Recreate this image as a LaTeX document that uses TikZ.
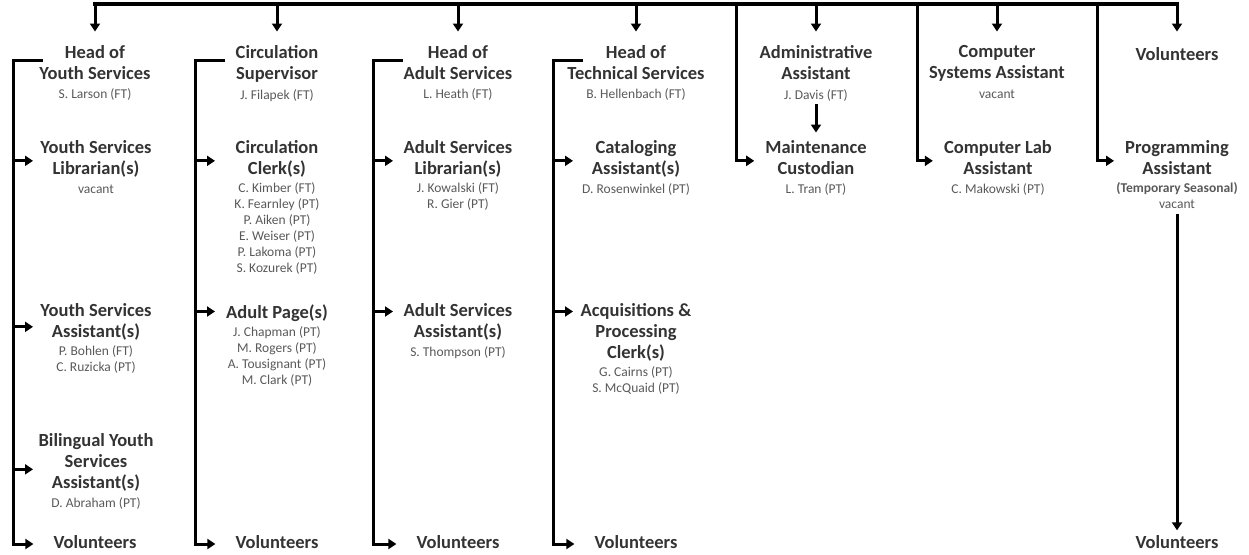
\documentclass[tikz,border=0pt]{standalone}
\usepackage{fontspec}
\setmainfont{Carlito}
\usetikzlibrary{positioning,arrows.meta}

\begin{document}
\begin{tikzpicture}[x=1pt,y=-1pt,
    role/.style={align=center,inner sep=0pt,anchor=north,text=black!80,
      font=\bfseries\fontsize{18.5}{21}\selectfont,
      execute at begin node=\strut,execute at end node=\strut},
    staff/.style={align=center,inner sep=0pt,text=black!65,
      font=\fontsize{13.5}{16}\selectfont,
      execute at begin node=\strut,execute at end node=\strut},
    link/.style={line width=3pt},
    arr/.style={line width=3pt,-{Triangle[length=8pt,width=10pt]}}]
  \useasboundingbox (0,0) rectangle (1249,554);

  % first row
  \node[role] (yhead) at (95,45.5) {Head of\\Youth Services};
  \node[staff,below=1.4pt of yhead] (yhead-n) {S. Larson (FT)};
  \node[role] (circ) at (277,45.5) {Circulation\\Supervisor};
  \node[staff,below=1.4pt of circ] (circ-n) {J. Filapek (FT)};
  \node[role] (ahead) at (458,45.5) {Head of\\Adult Services};
  \node[staff,below=1.4pt of ahead] (ahead-n) {L. Heath (FT)};
  \node[role] (thead) at (636,45.5) {Head of\\Technical Services};
  \node[staff,below=1.4pt of thead] (thead-n) {B. Hellenbach (FT)};
  \node[role] (admin) at (816,45.5) {Administrative\\Assistant};
  \node[staff,below=1.4pt of admin] (admin-n) {J. Davis (FT)};
  \node[role] (csys) at (997,45.5) {Computer\\Systems Assistant};
  \node[staff,below=1.4pt of csys] (csys-n) {vacant};
  \node[role] (vtop) at (1177,45.5) {Volunteers};

  % second row
  \node[role] (ylib) at (96,140.5) {Youth Services\\Librarian(s)};
  \node[staff,below=1.4pt of ylib] (ylib-n) {vacant};
  \node[role] (clerk) at (277,140.5) {Circulation\\Clerk(s)};
  \node[staff,below=1.4pt of clerk] (clerk-n) {C. Kimber (FT)\\K. Fearnley (PT)\\P. Aiken (PT)\\E. Weiser (PT)\\P. Lakoma (PT)\\S. Kozurek (PT)};
  \node[role] (alib) at (458,140.5) {Adult Services\\Librarian(s)};
  \node[staff,below=1.4pt of alib] (alib-n) {J. Kowalski (FT)\\R. Gier (PT)};
  \node[role] (catl) at (636,140.5) {Cataloging\\Assistant(s)};
  \node[staff,below=1.4pt of catl] (catl-n) {D. Rosenwinkel (PT)};
  \node[role] (maint) at (816,140.5) {Maintenance\\Custodian};
  \node[staff,below=1.4pt of maint] (maint-n) {L. Tran (PT)};
  \node[role] (clab) at (998,140.5) {Computer Lab\\Assistant};
  \node[staff,below=1.4pt of clab] (clab-n) {C. Makowski (PT)};
  \node[role] (prog) at (1177,140.5) {Programming\\Assistant};
  \node[staff,below=1.4pt of prog] (prog-n) {\textbf{(Temporary Seasonal)}\\vacant};

  % third and fourth rows
  \node[role] (yasst) at (96,303.5) {Youth Services\\Assistant(s)};
  \node[staff,below=1.4pt of yasst] (yasst-n) {P. Bohlen (FT)\\C. Ruzicka (PT)};
  \node[role] (page) at (277,303.5) {Adult Page(s)};
  \node[staff,below=1.4pt of page] (page-n) {J. Chapman (PT)\\M. Rogers (PT)\\A. Tousignant (PT)\\M. Clark (PT)};
  \node[role] (aasst) at (458,303.5) {Adult Services\\Assistant(s)};
  \node[staff,below=1.4pt of aasst] (aasst-n) {S. Thompson (PT)};
  \node[role] (acq) at (636,303.5) {Acquisitions \&\\Processing\\Clerk(s)};
  \node[staff,below=1.4pt of acq] (acq-n) {G. Cairns (PT)\\S. McQuaid (PT)};
  \node[role] (bila) at (96,433.5) {Bilingual Youth\\Services\\Assistant(s)};
  \node[staff,below=1.4pt of bila] (bila-n) {D. Abraham (PT)};

  % volunteers
  \node[role] (yvol) at (95,533.3) {Volunteers};
  \node[role] (cvol) at (277,533.3) {Volunteers};
  \node[role] (avol) at (458,533.3) {Volunteers};
  \node[role] (tvol) at (636,533.3) {Volunteers};
  \node[role] (pvol) at (1177,533.3) {Volunteers};

  % top bar
  \coordinate (bar) at (0,4);
  \draw[link,line cap=rect,line width=3.5pt] (bar -| yhead) -- (bar -| vtop);
  \foreach \n in {yhead,circ,ahead,thead,admin,csys,vtop}
    \draw[arr,shorten >=14pt] (bar -| \n) -- (\n);
  \coordinate (b5) at (736,4);
  \coordinate (b6) at (917,4);
  \coordinate (b7) at (1097,4);
  \draw[arr,shorten >=11pt] (b5) |- (maint);
  \draw[arr,shorten >=11pt] (b6) |- (clab);
  \draw[arr,shorten >=11pt] (b7) |- (prog);
  \draw[arr,shorten >=8pt] (admin-n) -- (maint);
  \draw[arr,shorten >=3pt] (prog-n) -- (pvol);

  % brackets
  \coordinate (s1) at (13,60);
  \coordinate (s2) at (195,60);
  \coordinate (s3) at (373,60);
  \coordinate (s4) at (553,60);
  \draw[arr,shorten >=20pt] ([xshift=30pt]s1) -- (s1) |- (yvol);
  \draw[arr,shorten >=20pt] ([xshift=30pt]s2) -- (s2) |- (cvol);
  \draw[arr,shorten >=20pt] ([xshift=30pt]s3) -- (s3) |- (avol);
  \draw[arr,shorten >=20pt] ([xshift=30pt]s4) -- (s4) |- (tvol);
  \draw[arr] (s1 |- ylib) -- ++(20,0);
  \draw[arr] (s1 |- yasst) ++(0,3) -- ++(20,0);
  \draw[arr] (s1 |- bila) ++(0,5) -- ++(20,0);
  \draw[arr] (s2 |- clerk) -- ++(20,0);
  \draw[arr] (s2 |- page.north) ++(0,8) -- ++(20,0);
  \draw[arr] (s3 |- alib) -- ++(20,0);
  \draw[arr] (s3 |- aasst.north) ++(0,8) -- ++(20,0);
  \draw[arr] (s4 |- catl) -- ++(20,0);
  \draw[arr] (s4 |- acq.north) ++(0,8) -- ++(20,0);
\end{tikzpicture}
\end{document}
